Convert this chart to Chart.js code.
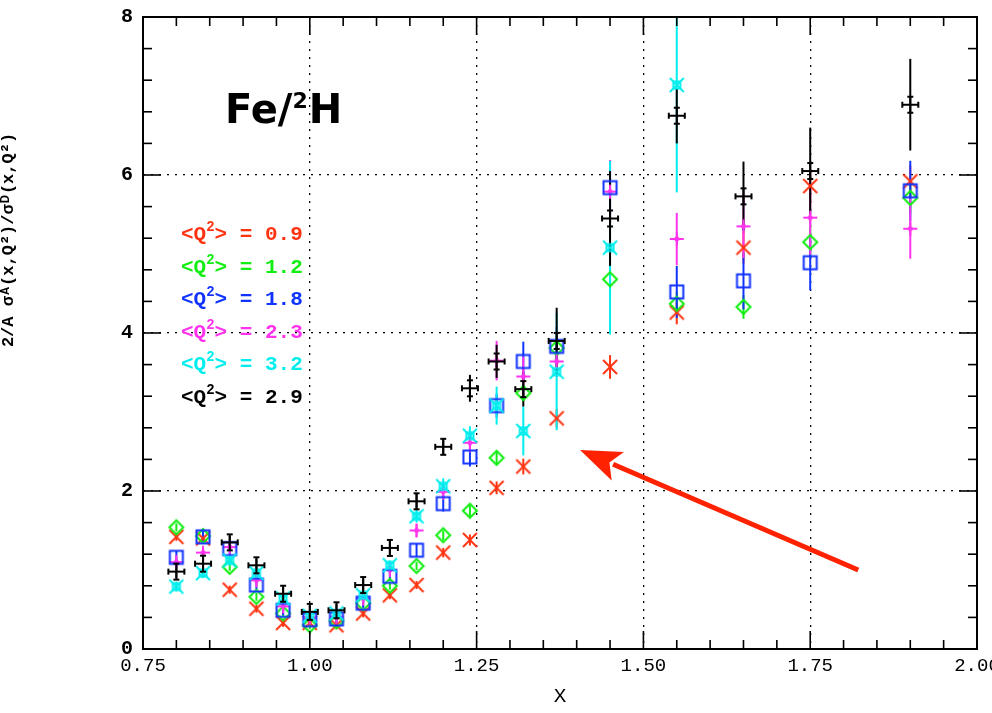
<!DOCTYPE html>
<html>
<head>
<meta charset="utf-8">
<title>Fe/2H ratio vs x</title>
<script src="https://cdn.jsdelivr.net/npm/chart.js@4.4.1/dist/chart.umd.min.js"></script>
<style>
  html, body { margin: 0; padding: 0; background: #fff; }
  #wrap { width: 992px; height: 713px; position: relative; }
</style>
</head>
<body>
<div id="wrap"><canvas id="myChart"></canvas></div>
<script>
'use strict'

// *********DATA***********

let xValues = [0.80, 0.84, 0.88, 0.92, 0.96, 1.00, 1.04, 1.08, 1.12, 1.16, 1.20, 1.24, 1.28, 1.32, 1.37, 1.45, 1.55, 1.65, 1.75, 1.90];

// ratio for each <Q2> bin
let q09 = [1.42, 1.40, 0.75, 0.51, 0.33, 0.33, 0.30, 0.45, 0.68, 0.81, 1.22, 1.38, 2.04, 2.31, 2.92, 3.57, 4.26, 5.08, 5.86, 5.92];
let q12 = [1.54, 1.43, 1.04, 0.66, 0.45, 0.30, 0.35, 0.58, 0.80, 1.05, 1.44, 1.75, 2.42, 3.24, 3.81, 4.68, 4.37, 4.33, 5.15, 5.71];
let q18 = [1.16, 1.42, 1.27, 0.81, 0.49, 0.37, 0.38, 0.58, 0.92, 1.25, 1.84, 2.43, 3.08, 3.64, 3.83, 5.84, 4.52, 4.66, 4.89, 5.80];
let q23 = [1.10, 1.22, 1.29, 0.87, 0.54, 0.40, 0.41, 0.64, 1.00, 1.50, 1.99, 2.61, 3.65, 3.45, 3.64, 5.79, 5.19, 5.35, 5.46, 5.32];
let q32 = [0.79, 0.96, 1.12, 0.96, 0.64, 0.42, 0.45, 0.68, 1.06, 1.68, 2.06, 2.70, 3.08, 2.76, 3.51, 5.08, 7.14, null, null, null];
let q29 = [0.98, 1.08, 1.35, 1.06, 0.70, 0.47, 0.49, 0.81, 1.28, 1.87, 2.56, 3.30, 3.64, 3.29, 3.90, 5.45, 6.75, 5.73, 6.05, 6.89];

// error bar half lengths
let q09Err = [0.05, 0.05, 0.05, 0.05, 0.05, 0.05, 0.05, 0.05, 0.05, 0.05, 0.06, 0.07, 0.08, 0.10, 0.12, 0.15, 0.15, 0.20, 0.20, 0.20];
let q12Err = [0.05, 0.05, 0.05, 0.05, 0.05, 0.05, 0.05, 0.05, 0.05, 0.05, 0.06, 0.07, 0.08, 0.10, 0.12, 0.15, 0.15, 0.15, 0.20, 0.20];
let q18Err = [0.08, 0.08, 0.08, 0.06, 0.06, 0.06, 0.06, 0.06, 0.06, 0.08, 0.10, 0.12, 0.15, 0.25, 0.25, 0.35, 0.33, 0.36, 0.35, 0.38];
let q23Err = [0.06, 0.06, 0.06, 0.06, 0.06, 0.06, 0.06, 0.06, 0.06, 0.08, 0.10, 0.12, 0.25, 0.25, 0.20, 0.40, 0.33, 0.40, 0.47, 0.38];
let q32Err = [0.06, 0.06, 0.06, 0.06, 0.06, 0.06, 0.06, 0.06, 0.06, 0.08, 0.10, 0.12, 0.24, 0.31, 0.74, 1.10, 1.36, 0, 0, 0];
let q29Err = [0.08, 0.08, 0.08, 0.08, 0.08, 0.08, 0.08, 0.08, 0.08, 0.09, 0.10, 0.17, 0.21, 0.22, 0.42, 0.60, 0.35, 0.44, 0.55, 0.58];

let q2Labels = ['0.9', '1.2', '1.8', '2.3', '3.2', '2.9'];
let seriesColors = ['#ff3311', '#11ee11', '#1133ff', '#ff33ee', '#00eeee', '#000000'];

let xTicks = [0.75, 1.00, 1.25, 1.50, 1.75, 2.00];
let yTicks = [0, 2, 4, 6, 8];


// *********MARKERS**********

function makeMarker(color, size, draw){
  let c = document.createElement('canvas');
  c.width = size;
  c.height = size;
  let g = c.getContext('2d');
  g.strokeStyle = color;
  g.fillStyle = color;
  g.lineWidth = 2;
  g.translate(size / 2, size / 2);
  draw(g);
  return c;
}

function line(g, x1, y1, x2, y2){
  g.beginPath();
  g.moveTo(x1, y1);
  g.lineTo(x2, y2);
  g.stroke();
}

let markers = [
  // x cross
  makeMarker(seriesColors[0], 18, function(g){
    line(g, -7, -7, 7, 7);
    line(g, -7, 7, 7, -7);
  }),
  // open diamond
  makeMarker(seriesColors[1], 18, function(g){
    g.beginPath();
    g.moveTo(0, -7); g.lineTo(7, 0); g.lineTo(0, 7); g.lineTo(-7, 0);
    g.closePath();
    g.stroke();
  }),
  // open square
  makeMarker(seriesColors[2], 18, function(g){
    g.strokeRect(-6.5, -6.5, 13, 13);
  }),
  // plus with filled centre
  makeMarker(seriesColors[3], 18, function(g){
    line(g, -7, 0, 7, 0);
    line(g, 0, -7, 0, 7);
    g.beginPath();
    g.moveTo(0, -3.5); g.lineTo(3.5, 0); g.lineTo(0, 3.5); g.lineTo(-3.5, 0);
    g.closePath();
    g.fill();
  }),
  // boxed star
  makeMarker(seriesColors[4], 18, function(g){
    line(g, -7, -7, 7, 7);
    line(g, -7, 7, 7, -7);
    g.strokeRect(-3.5, -3.5, 7, 7);
  }),
  // plus with serifs
  makeMarker(seriesColors[5], 20, function(g){
    line(g, -8, 0, 8, 0);
    line(g, 0, -8, 0, 8);
    line(g, -3, -8, 3, -8);
    line(g, -3, 8, 3, 8);
    line(g, -8, -3, -8, 3);
    line(g, 8, -3, 8, 3);
  })
];


// *********DATASETS**********

let seriesValues = [q09, q12, q18, q23, q32, q29];
let seriesErrors = [q09Err, q12Err, q18Err, q23Err, q32Err, q29Err];
let drawOrder = [5, 4, 2, 3, 1, 0];

let datasets = [];
for(let s = 0; s < seriesValues.length; s++){
  let pts = [];
  for(let i = 0; i < xValues.length; i++){
    if(seriesValues[s][i] !== null){
      pts.push({x: xValues[i], y: seriesValues[s][i], err: seriesErrors[s][i]});
    }
  }
  datasets.push({
    label: '<Q2> = ' + q2Labels[s],
    data: pts,
    pointStyle: markers[s],
    pointRadius: 8,
    pointHoverRadius: 8,
    borderColor: seriesColors[s],
    backgroundColor: seriesColors[s],
    showLine: false,
    order: drawOrder[s]
  });
}


// *********DECORATION PLUGIN**********

let decorPlugin = {
  id: 'decor',

  // error bars, under the markers
  beforeDatasetsDraw(chart){
    let ctx = chart.ctx;
    let xs = chart.scales.x;
    let ys = chart.scales.y;
    let area = chart.chartArea;
    ctx.save();
    ctx.beginPath();
    ctx.rect(area.left, area.top, area.right - area.left, area.bottom - area.top);
    ctx.clip();
    ctx.lineWidth = 2;
    for(let s = 0; s < chart.data.datasets.length; s++){
      let ds = chart.data.datasets[s];
      ctx.strokeStyle = ds.borderColor;
      for(let p of ds.data){
        if(!p.err){ continue; }
        let px = xs.getPixelForValue(p.x);
        ctx.beginPath();
        ctx.moveTo(px, ys.getPixelForValue(p.y - p.err));
        ctx.lineTo(px, ys.getPixelForValue(p.y + p.err));
        ctx.stroke();
      }
    }
    ctx.restore();
  },

  afterDraw(chart){
    let ctx = chart.ctx;
    let xs = chart.scales.x;
    let ys = chart.scales.y;
    let a = chart.chartArea;
    ctx.save();

    // frame
    ctx.strokeStyle = '#000';
    ctx.lineWidth = 2;
    ctx.strokeRect(a.left, a.top, a.right - a.left, a.bottom - a.top);

    // inward ticks on all four sides
    ctx.lineWidth = 1.6;
    for(let v = 0.75; v <= 2.0001; v += 0.05){
      let px = xs.getPixelForValue(v);
      let major = Math.abs(v * 4 - Math.round(v * 4)) < 0.001;
      let len = major ? 18 : 9;
      line(ctx, px, a.bottom, px, a.bottom - len);
      line(ctx, px, a.top, px, a.top + len);
    }
    for(let v = 0; v <= 8.0001; v += 0.4){
      let py = ys.getPixelForValue(v);
      let major = Math.abs(v / 2 - Math.round(v / 2)) < 0.001;
      let len = major ? 18 : 9;
      line(ctx, a.left, py, a.left + len, py);
      line(ctx, a.right, py, a.right - len, py);
    }

    // title
    ctx.fillStyle = '#000';
    ctx.textBaseline = 'alphabetic';
    ctx.textAlign = 'left';
    let tx = a.left + 82;
    let ty = a.top + 106;
    ctx.font = 'bold 40px "DejaVu Sans"';
    ctx.fillText('Fe/', tx, ty);
    tx += ctx.measureText('Fe/').width;
    ctx.font = 'bold 22px "DejaVu Sans"';
    ctx.fillText('2', tx, ty - 15);
    tx += ctx.measureText('2').width + 1;
    ctx.font = 'bold 40px "DejaVu Sans"';
    ctx.fillText('H', tx, ty);

    // legend lines
    for(let s = 0; s < q2Labels.length; s++){
      let lx = a.left + 38;
      let ly = a.top + 223 + s * 32.6;
      ctx.fillStyle = seriesColors[s];
      ctx.font = 'bold 21px "Liberation Mono"';
      ctx.fillText('<Q', lx, ly);
      lx += ctx.measureText('<Q').width;
      ctx.font = 'bold 14px "Liberation Mono"';
      ctx.fillText('2', lx, ly - 9);
      lx += ctx.measureText('2').width;
      ctx.font = 'bold 21px "Liberation Mono"';
      ctx.fillText('> = ' + q2Labels[s], lx, ly);
    }

    // y axis title, partly off the left edge
    ctx.save();
    ctx.translate(13, 240);
    ctx.rotate(-Math.PI / 2);
    ctx.fillStyle = '#000';
    ctx.textAlign = 'center';
    ctx.font = 'bold 17px "Liberation Mono"';
    ctx.fillText('2/A \u03c3\u1d2c(x,Q\u00b2)/\u03c3\u1d30(x,Q\u00b2)', 0, 0);
    ctx.restore();

    // red arrow
    let x1 = xs.getPixelForValue(1.822);
    let y1 = ys.getPixelForValue(1.0);
    let x2 = xs.getPixelForValue(1.405);
    let y2 = ys.getPixelForValue(2.52);
    let ang = Math.atan2(y2 - y1, x2 - x1);
    let head = 44;
    ctx.strokeStyle = '#ff2200';
    ctx.fillStyle = '#ff2200';
    ctx.lineWidth = 5;
    ctx.beginPath();
    ctx.moveTo(x1, y1);
    ctx.lineTo(x2 - Math.cos(ang) * (head - 8), y2 - Math.sin(ang) * (head - 8));
    ctx.stroke();
    ctx.beginPath();
    ctx.moveTo(x2, y2);
    ctx.lineTo(x2 - Math.cos(ang - 0.36) * head, y2 - Math.sin(ang - 0.36) * head);
    ctx.lineTo(x2 - Math.cos(ang) * (head - 12), y2 - Math.sin(ang) * (head - 12));
    ctx.lineTo(x2 - Math.cos(ang + 0.36) * head, y2 - Math.sin(ang + 0.36) * head);
    ctx.closePath();
    ctx.fill();

    ctx.restore();
  }
};


// *********CHART RENDER**********

let tickFont = {family: '"Liberation Mono"', size: 19};

let myChartObj = {
  type: 'scatter',
  data: {datasets: datasets},
  options: {
    responsive: true,
    maintainAspectRatio: false,
    animation: false,
    layout: {padding: {top: 17, right: 15, left: 0, bottom: 0}},
    plugins: {
      legend: {display: false},
      tooltip: {enabled: false}
    },
    scales: {
      x: {
        type: 'linear',
        min: 0.75,
        max: 2.0,
        afterBuildTicks: function(scale){
          scale.ticks = xTicks.map(v => ({value: v}));
        },
        afterFit: function(scale){
          scale.height = 64;
          scale.paddingLeft = 0;
          scale.paddingRight = 0;
        },
        ticks: {
          color: '#000',
          font: tickFont,
          padding: 6,
          maxRotation: 0,
          autoSkip: false,
          callback: v => Number(v).toFixed(2)
        },
        grid: {color: '#000', lineWidth: 1.3, drawTicks: false},
        border: {display: false, dash: [2, 6]},
        title: {display: true, text: 'X', color: '#000', font: {family: '"Liberation Mono"', size: 21}, padding: {top: 0, bottom: 4}}
      },
      y: {
        type: 'linear',
        min: 0,
        max: 8,
        afterBuildTicks: function(scale){
          scale.ticks = yTicks.map(v => ({value: v}));
        },
        afterFit: function(scale){
          scale.width = 143;
          scale.paddingTop = 0;
          scale.paddingBottom = 0;
        },
        ticks: {
          color: '#000',
          font: {family: '"Liberation Mono"', size: 20, weight: 'bold'},
          padding: 10,
          autoSkip: false
        },
        grid: {color: '#000', lineWidth: 1.3, drawTicks: false},
        border: {display: false, dash: [2, 6]}
      }
    }
  },
  plugins: [decorPlugin]
};

let ctx = document.getElementById('myChart');
new Chart(ctx, myChartObj);
</script>
</body>
</html>
